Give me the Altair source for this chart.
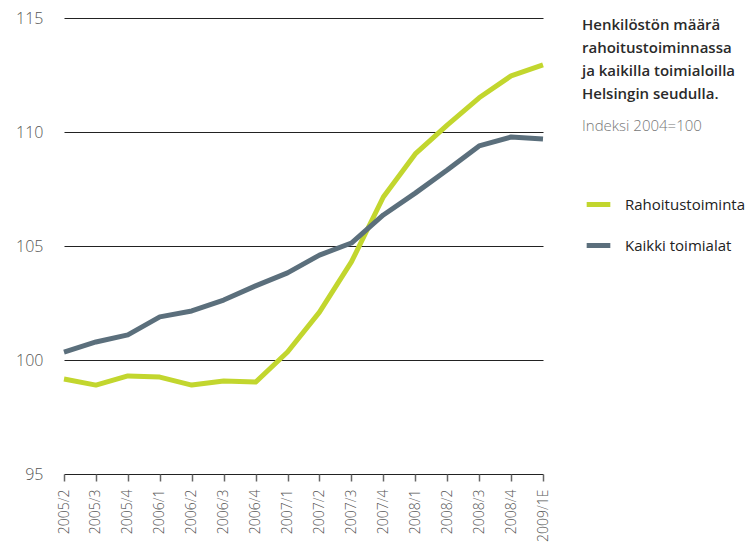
import altair as alt
import pandas as pd

quarters = ["2005/2", "2005/3", "2005/4", "2006/1", "2006/2", "2006/3", "2006/4",
            "2007/1", "2007/2", "2007/3", "2007/4", "2008/1", "2008/2", "2008/3",
            "2008/4", "2009/1E"]
rahoitus = [99.17, 98.9, 99.3, 99.25, 98.9, 99.08, 99.03, 100.35, 102.1, 104.3,
            107.15, 109.04, 110.3, 111.5, 112.46, 112.94]
kaikki = [100.35, 100.79, 101.1, 101.89, 102.15, 102.63, 103.25, 103.82, 104.6,
          105.13, 106.36, 107.32, 108.33, 109.39, 109.78, 109.69]
series_names = ["Rahoitustoiminta", "Kaikki toimialat"]
series_colors = ["#c2d62e", "#5b6f7c"]
title_lines = ["Henkilöstön määrä", "rahoitustoiminnassa", "ja kaikilla toimialoilla",
               "Helsingin seudulla."]
subtitle = "Indeksi 2004=100"

rows = []
for q, a, b in zip(quarters, rahoitus, kaikki):
    rows.append({"quarter": q, "series": series_names[0], "value": a})
    rows.append({"quarter": q, "series": series_names[1], "value": b})
df = pd.DataFrame(rows)

FONT = "Open Sans"
W, H = 493, 456

lines = alt.Chart(df).mark_line(strokeWidth=5, strokeJoin="round").encode(
    x=alt.X("quarter:O", sort=quarters,
            scale=alt.Scale(type="point", range=[9, 488], padding=0),
            axis=alt.Axis(title=None, labelAngle=-90, domain=False, grid=False,
                          tickSize=7, tickColor="#666", tickWidth=1.5,
                          labelColor="#555", labelFontSize=14, labelFont=FONT,
                          labelFontWeight=300, labelPadding=8)),
    y=alt.Y("value:Q", scale=alt.Scale(domain=[95, 115], nice=False, zero=False),
            axis=alt.Axis(title=None, values=[95, 100, 105, 110, 115], domain=False,
                          ticks=False, grid=True, gridColor="#222", gridWidth=1.2,
                          labelColor="#555", labelFontSize=16, labelFont=FONT,
                          labelFontWeight=300, labelPadding=12)),
    color=alt.Color("series:N",
                    scale=alt.Scale(domain=series_names, range=series_colors),
                    legend=alt.Legend(title=None, orient="none", legendX=529, legendY=172,
                                      symbolType="stroke", symbolStrokeWidth=5,
                                      symbolSize=560, labelFontSize=15, labelFont=FONT,
                                      labelLimit=400,
                                      labelColor="#222", labelOffset=12, rowPadding=16)),
)

title_text = alt.Chart(pd.DataFrame({"t": ["\n".join(title_lines)]})).mark_text(
    align="left", baseline="top", font=FONT, fontSize=15, fontWeight=600,
    color="#2a2a2a", lineBreak="\n", lineHeight=23
).encode(x=alt.value(527), y=alt.value(0), text="t:N")

sub_text = alt.Chart(pd.DataFrame({"t": [subtitle]})).mark_text(
    align="left", baseline="top", font=FONT, fontSize=15, fontWeight=300,
    color="#777"
).encode(x=alt.value(527), y=alt.value(101), text="t:N")

chart = alt.layer(lines, title_text, sub_text).properties(
    width=W, height=H,
    autosize=alt.AutoSizeParams(type="none"),
    padding={"left": 47, "top": 10, "right": 199, "bottom": 70},
).configure_view(stroke=None)

chart.save("out.html", embed_options={"renderer": "svg", "actions": False})
